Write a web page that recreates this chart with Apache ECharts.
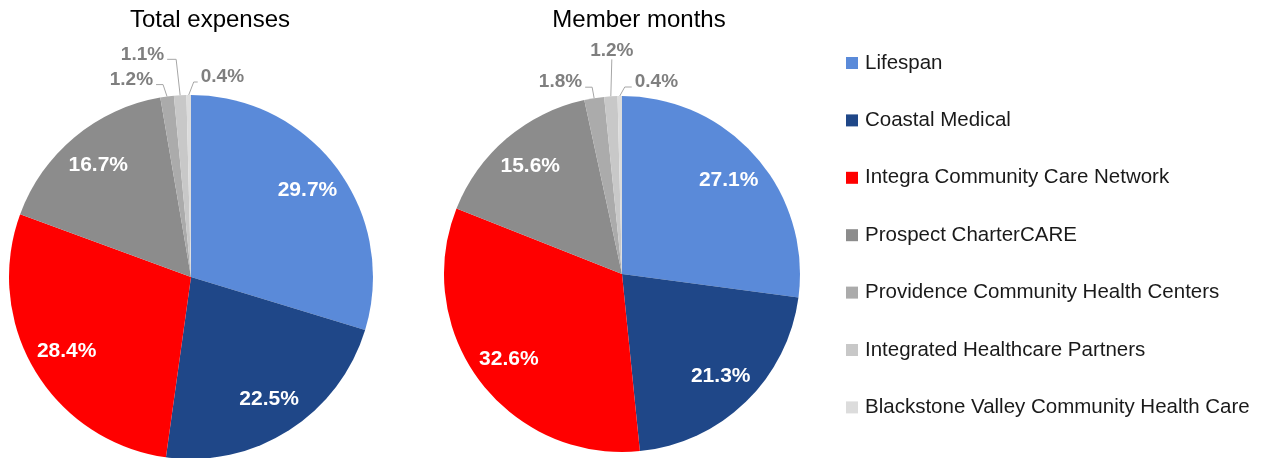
<!DOCTYPE html>
<html>
<head>
<meta charset="utf-8">
<script src="https://cdn.jsdelivr.net/npm/echarts@6/dist/echarts.min.js"></script>
<style>
  html, body { margin: 0; padding: 0; background: #fff; }
  #chart { width: 1268px; height: 458px; }
</style>
</head>
<body>
<div id="chart"></div>
<script>
const categories = [
  'Lifespan',
  'Coastal Medical',
  'Integra Community Care Network',
  'Prospect CharterCARE',
  'Providence Community Health Centers',
  'Integrated Healthcare Partners',
  'Blackstone Valley Community Health Care'
]
const totalExpenses = [29.7, 22.5, 28.4, 16.7, 1.2, 1.1, 0.4]
const memberMonths = [27.1, 21.3, 32.6, 15.6, 1.8, 1.2, 0.4]
const colors = ['#5A8AD9', '#1F4788', '#FF0000', '#8C8C8C', '#ABABAB', '#C8C8C8', '#DCDCDC']

const FONT = 'Arial, "Liberation Sans", sans-serif'
const SMALL = 5 // slices below this get an outside label

const fmt = p => p.value.toFixed(1) + '%'

// leader line shape for the tiny slices: [elbow dx, elbow dy, horizontal run, text align]
const leaders = {
  0: { 4: [-4, -12, -7, 'right'], 5: [-4, -36, -9, 'right'], 6: [5, -13, 4, 'left'] },
  1: { 4: [-2, -11, -7, 'right'], 5: [1, -37, 0, 'center'], 6: [5, -9, 7, 'left'] }
}

const placeLabel = params => {
  const rule = leaders[params.seriesIndex] && leaders[params.seriesIndex][params.dataIndex]
  const pts = params.labelLinePoints
  if (!rule || !pts) return {}
  const p0 = pts[0]
  const p1 = [p0[0] + rule[0], p0[1] + rule[1]]
  const p2 = [p1[0] + rule[2], p1[1]]
  const align = rule[3]
  let x = p2[0]
  let y = p2[1] - 5
  if (align === 'right') x -= 3
  if (align === 'left') x += 3
  if (align === 'center') y = p2[1] - 9
  return { x, y, align, verticalAlign: 'middle', labelLinePoints: [p0, p1, p2] }
}

// visible pie with outside labels for the tiny slices
const makePie = (values, center, r) => ({
  type: 'pie',
  center: center,
  radius: [0, r],
  startAngle: 90,
  clockwise: true,
  data: categories.map((name, i) => ({
    name,
    value: values[i],
    itemStyle: { color: colors[i] },
    label: { show: values[i] < SMALL },
    labelLine: { show: values[i] < SMALL }
  })),
  label: {
    position: 'outside',
    formatter: fmt,
    color: '#7F7F7F',
    fontFamily: FONT,
    fontWeight: 'bold',
    fontSize: 19
  },
  labelLine: {
    length: 8,
    length2: 6,
    lineStyle: { color: '#A6A6A6', width: 1 }
  },
  labelLayout: placeLabel,
  emphasis: { disabled: true }
})

// transparent ring that only carries the inside labels, set further out
const makeLabelRing = (values, center, r) => ({
  type: 'pie',
  center: center,
  radius: [r * 0.56, r],
  startAngle: 90,
  clockwise: true,
  silent: true,
  itemStyle: { color: 'rgba(0,0,0,0)' },
  data: categories.map((name, i) => ({
    name,
    value: values[i],
    label: { show: values[i] >= SMALL }
  })),
  label: {
    position: 'inside',
    formatter: fmt,
    color: '#fff',
    fontFamily: FONT,
    fontWeight: 'bold',
    fontSize: 21
  },
  labelLine: { show: false },
  emphasis: { disabled: true }
})

const chart = echarts.init(document.getElementById('chart'), null, { renderer: 'canvas' })

chart.setOption({
  animation: false,
  title: [
    {
      text: 'Total expenses',
      left: 205, top: 3,
      textAlign: 'center',
      textStyle: { fontFamily: FONT, fontWeight: 'normal', fontSize: 24, color: '#000' }
    },
    {
      text: 'Member months',
      left: 634, top: 3,
      textAlign: 'center',
      textStyle: { fontFamily: FONT, fontWeight: 'normal', fontSize: 24, color: '#000' }
    }
  ],
  legend: {
    orient: 'vertical',
    left: 841,
    top: 47,
    icon: 'rect',
    itemWidth: 12,
    itemHeight: 12,
    itemGap: 35.4,
    data: categories,
    textStyle: { fontFamily: FONT, fontSize: 20.5, color: '#1A1A1A', lineHeight: 22, padding: [0, 0, 0, 2] },
    selectedMode: false
  },
  series: [
    makePie(totalExpenses, [191, 277], 182),
    makePie(memberMonths, [622, 274], 178),
    makeLabelRing(totalExpenses, [191, 277], 182),
    makeLabelRing(memberMonths, [622, 274], 178)
  ]
})
</script>
</body>
</html>
